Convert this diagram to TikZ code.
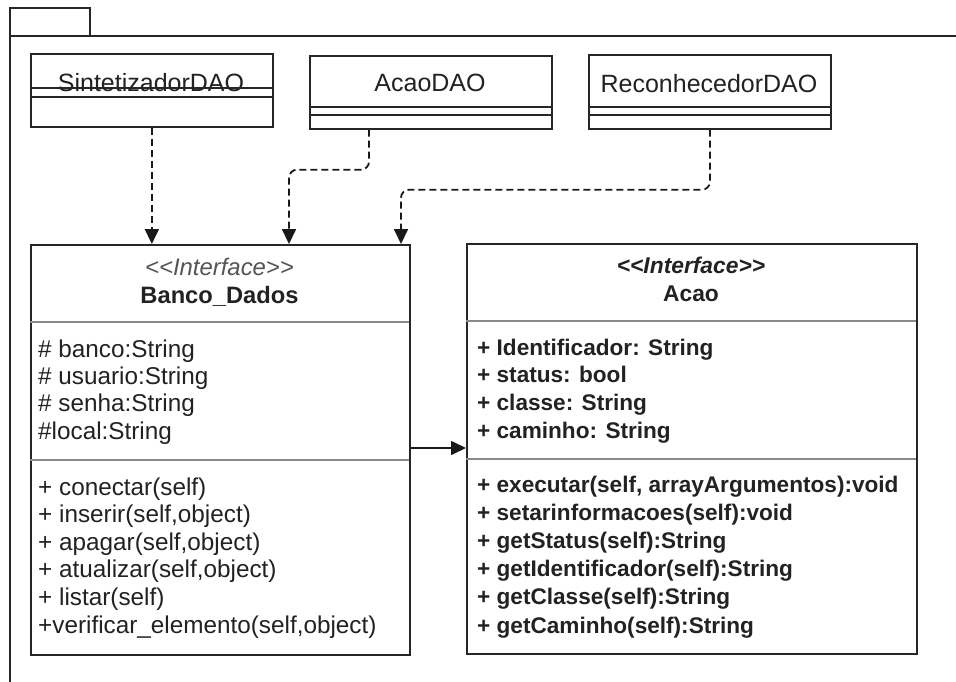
\documentclass[tikz,border=0pt]{standalone}
\usepackage{fontspec}
\setmainfont{Liberation Sans}
\usetikzlibrary{arrows.meta}
\definecolor{ink}{HTML}{222222}
\definecolor{soft}{HTML}{555555}
\definecolor{rule}{HTML}{8A8A8A}
\newcommand\regfont{\fontsize{24.3}{28}\selectfont}
\newcommand\boldfont{\fontsize{22.6}{28}\selectfont\bfseries}
\newcommand\daofont{\fontsize{25}{28}\selectfont}
\newcommand\stereo[1]{{<}{<}#1{>}{>}}
\tikzset{
  pkg/.style={draw=black!85, line width=1.7pt},
  box/.style={draw=black!85, line width=1.7pt, fill=white, inner sep=0pt, anchor=north west},
  daosep/.style={draw=black!85, line width=1.7pt},
  compsep/.style={draw=rule, line width=1.2pt},
  txt/.style={inner sep=0pt, text=ink},
  dep/.style={draw=black!90, line width=1.8pt, dash pattern=on 7pt off 4pt, rounded corners=8pt,
    -{Triangle[width=14pt,length=15pt]}},
  assoc/.style={draw=black!90, line width=1.6pt, -{Triangle[width=14pt,length=15pt]}},
}
\begin{document}
\begin{tikzpicture}[x=1pt,y=-1pt]
\clip (0,0) rectangle (956,681);
\fill[white] (0,0) rectangle (956,681);

% package frame with its tab
\draw[pkg] (10,700) -- (10,8) -- (90,8) -- (90,36);
\draw[pkg] (10,36) -- (970,36);

% DAO classes
\node[box, minimum width=242pt, minimum height=73pt] (sint) at (30,53) {};
\node[box, minimum width=242pt, minimum height=73pt] (acaodao) at (309,55) {};
\node[box, minimum width=242pt, minimum height=74pt] (recon) at (588,54) {};

\node[txt, anchor=base, font=\daofont] (sintname) at (151,91) {SintetizadorDAO};
\node[txt, anchor=base, font=\daofont] (acaodaoname) at (430,91) {AcaoDAO};
\node[txt, anchor=base, font=\daofont] (reconname) at (709,92) {ReconhecedorDAO};

\draw[daosep] (sint.north west) ++(0,35) -- ++(242,0);
\draw[daosep] (sint.north west) ++(0,44) -- ++(242,0);
\draw[daosep] (acaodao.north west) ++(0,52) -- ++(242,0);
\draw[daosep] (acaodao.north west) ++(0,60) -- ++(242,0);
\draw[daosep] (recon.north west) ++(0,53) -- ++(242,0);
\draw[daosep] (recon.north west) ++(0,61) -- ++(242,0);

% interface Banco_Dados
\node[box, minimum width=379pt, minimum height=410pt] (banco) at (30,244) {};
\draw[compsep] (banco.north west) ++(0,78) -- ++(379,0);
\draw[compsep] (banco.north west) ++(0,216) -- ++(379,0);
\node[txt, anchor=base, text=soft, font=\fontsize{23.9}{28}\selectfont\itshape] (bancost) at (219.5,275) {\stereo{Interface}};
\node[txt, anchor=base, font=\fontsize{23.7}{28}\selectfont\bfseries] (banconame) at (219.5,303) {Banco\_Dados};
\foreach \t [count=\i] in {{\# banco:String},{\# usuario:String},{\# senha:String},{\#local:String}}
  \node[txt, anchor=base west, font=\regfont] (battr\i) at (38,{357.5+27.2*(\i-1)}) {\t};
\foreach \t [count=\i] in {{+ conectar(self)},{+ inserir(self,object)},{+ apagar(self,object)},
    {+ atualizar(self,object)},{+ listar(self)},{+verificar\_elemento(self,object)}}
  \node[txt, anchor=base west, font=\regfont] (bmeth\i) at (38,{495+27.6*(\i-1)}) {\t};

% interface Acao
\node[box, minimum width=450pt, minimum height=410pt] (acao) at (466,243) {};
\draw[compsep] (acao.north west) ++(0,78) -- ++(450,0);
\draw[compsep] (acao.north west) ++(0,216) -- ++(450,0);
\node[txt, anchor=base, font=\fontsize{22.8}{28}\selectfont\bfseries\itshape] (acaost) at (691,273) {\stereo{Interface}};
\node[txt, anchor=base, font=\fontsize{22.8}{28}\selectfont\bfseries] (acaoname) at (691,301) {Acao};
\foreach \t [count=\i] in {{+ Identificador: String},{+ status: bool},{+ classe: String},{+ caminho: String}}
  \node[txt, anchor=base west, font=\boldfont] (aattr\i) at (477,{355+27.7*(\i-1)}) {\t};
\foreach \t [count=\i] in {{+ executar(self, arrayArgumentos):void},{+ setarinformacoes(self):void},
    {+ getStatus(self):String},{+ getIdentificador(self):String},{+ getClasse(self):String},
    {+ getCaminho(self):String}}
  \node[txt, anchor=base west, font=\boldfont] (ameth\i) at (477,{492+28.2*(\i-1)}) {\t};

% dependencies of the DAO classes on Banco_Dados
\draw[dep] (sint.south) -- (sint.south |- banco.north);
\draw[dep] ([xshift=60pt]acaodao.south west) -- ++(0,40) -| ([xshift=259pt]banco.north west);
\draw[dep] ([xshift=122pt]recon.south west) -- ++(0,60) -| ([xshift=371pt]banco.north west);

% association Banco_Dados -> Acao
\coordinate (assocstart) at ([yshift=-204pt]banco.north east);
\draw[assoc] (assocstart) -- (assocstart -| acao.west);
\end{tikzpicture}
\end{document}
